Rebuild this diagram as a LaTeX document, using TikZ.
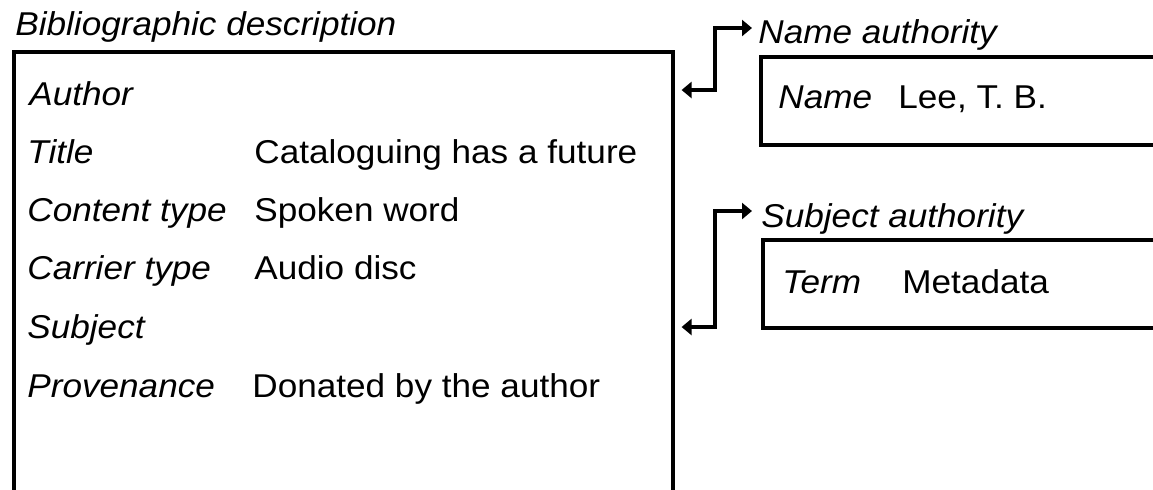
\documentclass[tikz,border=0pt]{standalone}
\usepackage{fontspec}
\setmainfont{Liberation Sans}[FakeStretch=1.065]
\usetikzlibrary{positioning, arrows.meta}
\tikzstyle{arrow} = [line width=1.8pt,{Triangle[length=5pt,width=8pt]}-{Triangle[length=5pt,width=8pt]}]

\begin{document}
\begin{tikzpicture}[x=0.5pt,y=-0.5pt]
                    \tikzstyle{every node}=[font=\fontsize{16.5}{20}\selectfont, inner sep=0pt]
                    \tikzstyle{record} = [draw=black, line width=1.8pt, rectangle, anchor=north west]
                    \tikzstyle{field} = [anchor=base west, font=\fontsize{16.5}{20}\selectfont\itshape]
                    \tikzstyle{value} = [anchor=base west]

                    \clip (0,0) rectangle (1153,489);
                    \fill[white] (0,0) rectangle (1153,489);

                    % bibliographic record
                    \node[record, minimum width=329.5pt, minimum height=250pt](bib) at (12,50) {};
                    \node[field, anchor=base west](bibtitle) at (15,35) {Bibliographic description};
                    \node[field](author) at (29,105) {Author};
                    \node[field](title) at (27,163) {Title};
                    \node[value](titleval) at (254,163) {Cataloguing has a future};
                    \node[field](content) at (27,221) {Content type};
                    \node[value](contentval) at (254,221) {Spoken word};
                    \node[field](carrier) at (27,279) {Carrier type};
                    \node[value](carrierval) at (254,279) {Audio disc};
                    \node[field](subject) at (27,338) {Subject};
                    \node[field](provenance) at (27,397) {Provenance};
                    \node[value](provenanceval) at (252,397) {Donated by the author};

                    % authority records
                    \node[record, minimum width=220pt, minimum height=44pt](namebox) at (759,55) {};
                    \node[field](nameauth) at (758,43) {Name authority};
                    \node[field](name) at (778,108) {Name};
                    \node[value](nameval) at (898,108) {Lee, T. B.};

                    \node[record, minimum width=220pt, minimum height=44pt](subjbox) at (761,238) {};
                    \node[field](subjauth) at (761,227) {Subject authority};
                    \node[field](term) at (782,293) {Term};
                    \node[value](termval) at (902,293) {Metadata};

                    \coordinate (nameend) at (752,28);
                    \coordinate (subjend) at (752,211);
                    \draw[arrow] ([xshift=3.5pt]bib.east |- 0,90) -- (715,90) |- (nameend);
                    \draw[arrow] ([xshift=3.5pt]bib.east |- 0,327) -- (715,327) |- (subjend);

            \end{tikzpicture}
\end{document}
